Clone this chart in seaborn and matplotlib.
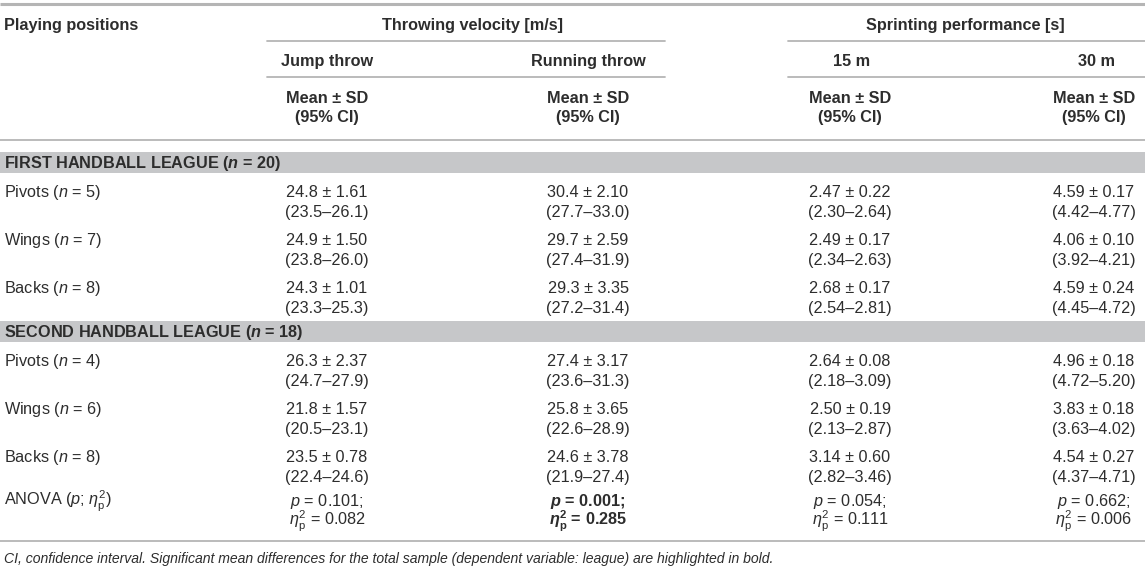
import matplotlib
matplotlib.use("Agg")
import matplotlib.pyplot as plt
import seaborn as sns

# ---------------- data ----------------
positions = ["Pivots", "Wings", "Backs"]
leagues = ["FIRST HANDBALL LEAGUE", "SECOND HANDBALL LEAGUE"]
league_n = [20, 18]
group_n = [[5, 7, 8], [4, 6, 8]]

# order: first league (pivots, wings, backs), second league (pivots, wings, backs)
jump_mean = [24.8, 24.9, 24.3, 26.3, 21.8, 23.5]
jump_sd = [1.61, 1.50, 1.01, 2.37, 1.57, 0.78]
jump_lo = [23.5, 23.8, 23.3, 24.7, 20.5, 22.4]
jump_hi = [26.1, 26.0, 25.3, 27.9, 23.1, 24.6]

run_mean = [30.4, 29.7, 29.3, 27.4, 25.8, 24.6]
run_sd = [2.10, 2.59, 3.35, 3.17, 3.65, 3.78]
run_lo = [27.7, 27.4, 27.2, 23.6, 22.6, 21.9]
run_hi = [33.0, 31.9, 31.4, 31.3, 28.9, 27.4]

s15_mean = [2.47, 2.49, 2.68, 2.64, 2.50, 3.14]
s15_sd = [0.22, 0.17, 0.17, 0.08, 0.19, 0.60]
s15_lo = [2.30, 2.34, 2.54, 2.18, 2.13, 2.82]
s15_hi = [2.64, 2.63, 2.81, 3.09, 2.87, 3.46]

s30_mean = [4.59, 4.06, 4.59, 4.96, 3.83, 4.54]
s30_sd = [0.17, 0.10, 0.24, 0.18, 0.18, 0.27]
s30_lo = [4.42, 3.92, 4.45, 4.72, 3.63, 4.37]
s30_hi = [4.77, 4.21, 4.72, 5.20, 4.02, 4.71]

anova_p = [0.101, 0.001, 0.054, 0.662]
anova_eta = [0.082, 0.285, 0.111, 0.006]
anova_bold = [False, True, False, False]

group_headers = ["Throwing velocity [m/s]", "Sprinting performance [s]"]
sub_headers = ["Jump throw", "Running throw", "15 m", "30 m"]
footnote = ("CI, confidence interval. Significant mean differences for the total "
            "sample (dependent variable: league) are highlighted in bold.")

# ---------------- style ----------------
sns.set_theme(style="white")
plt.rcParams["font.family"] = ["Liberation Sans", "DejaVu Sans"]
plt.rcParams["mathtext.fontset"] = "custom"
plt.rcParams["mathtext.rm"] = "Liberation Sans"
plt.rcParams["mathtext.it"] = "Liberation Sans:italic"
plt.rcParams["mathtext.bf"] = "Liberation Sans:bold"
plt.rcParams["mathtext.bfit"] = "Liberation Sans:italic:bold"
plt.rcParams["mathtext.sf"] = "Liberation Sans"

TXT = "#2d2d2d"
LINE = "#b5b5b5"
BAND = "#c6c7c9"
FS = 11.7
W, H = 1145, 572

fig = plt.figure(figsize=(W / 100, H / 100), dpi=100)
ax = fig.add_axes([0, 0, 1, 1])
ax.set_xlim(0, W)
ax.set_ylim(H, 0)
ax.axis("off")

BL = 5.8  # offset from visual centre to baseline


def put(x, y, s, ha="center", weight="normal", style="normal", size=FS):
    ax.text(x, y + BL, s, ha=ha, va="baseline", color=TXT, fontsize=size,
            fontweight=weight, fontstyle=style)


col_x = [327, 588, 850, 1094]
left_x = 4

# ---------------- header ----------------
ax.plot([0, W], [4, 4], color=LINE, lw=2.2, solid_capstyle="butt")
put(left_x, 24, "Playing positions", ha="left", weight="bold")
put(472, 24, group_headers[0], weight="bold")
put(965, 24, group_headers[1], weight="bold")
for y in (41, 77):
    ax.plot([267, 665], [y, y], color=LINE, lw=1.3)
    ax.plot([788, W], [y, y], color=LINE, lw=1.3)
sub_x = [327, 588, 852, 1096]
for x, s in zip(sub_x, sub_headers):
    put(x, 60, s, weight="bold")
for x in col_x:
    put(x, 97, "Mean ± SD", weight="bold")
    put(x, 116, "(95% CI)", weight="bold")
ax.plot([0, W], [140, 140], color=LINE, lw=1.3)

# ---------------- body ----------------
band_top = [152, 321]
row_step = 48
columns = [
    (jump_mean, jump_sd, jump_lo, jump_hi, 1),
    (run_mean, run_sd, run_lo, run_hi, 1),
    (s15_mean, s15_sd, s15_lo, s15_hi, 2),
    (s30_mean, s30_sd, s30_lo, s30_hi, 2),
]

for li, league in enumerate(leagues):
    top = band_top[li]
    ax.axhspan(top, top + 21, color=BAND, lw=0)
    put(left_x, top + 10.5,
        f"{league} ($\\mathbfit{{n}}$ = {league_n[li]})", ha="left", weight="bold")
    for gi, pos in enumerate(positions):
        y = top + 39 + gi * row_step
        idx = li * 3 + gi
        put(left_x, y, f"{pos} ($n$ = {group_n[li][gi]})", ha="left")
        for (m, s, lo, hi, d), x in zip(columns, col_x):
            put(x, y, f"{m[idx]:.{d}f} ± {s[idx]:.2f}")
            put(x, y + 20, f"({lo[idx]:.{d}f}–{hi[idx]:.{d}f})")

# ---------------- ANOVA ----------------
ya = 500
put(left_x, ya, "ANOVA ($p$; $\\eta^{2}_{\\mathrm{p}}$)", ha="left")
for x, p, e, b in zip(col_x, anova_p, anova_eta, anova_bold):
    if b:
        put(x, ya, f"$\\mathbfit{{p}}$ = {p:.3f};", weight="bold")
        put(x, ya + 19.5, f"$\\mathbfit{{\\eta}}^{{\\mathbf{{2}}}}_{{\\mathbf{{p}}}}$ = {e:.3f}",
            weight="bold")
    else:
        put(x, ya, f"$p$ = {p:.3f};")
        put(x, ya + 19.5, f"$\\eta^{{2}}_{{\\mathrm{{p}}}}$ = {e:.3f}")

ax.plot([0, W], [541, 541], color=LINE, lw=1.3)
put(left_x, 557, footnote, ha="left", style="italic", size=10.1)

fig.savefig("out.png", dpi=100)
